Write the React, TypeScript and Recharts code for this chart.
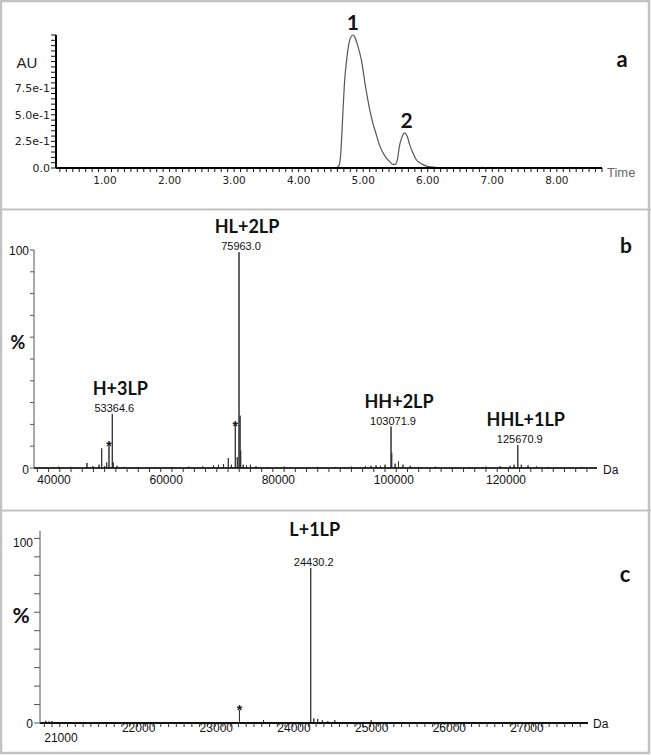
import React from 'react';
import { ComposedChart, Line, XAxis, YAxis, ReferenceDot } from 'recharts';

// ---- panel a: UV chromatogram (time in min, absorbance in AU) ----
const chromatogram: [number, number][] = [
  [0.24, 0], [4.5, 0], [4.57, 0.002], [4.6, 0.008], [4.63, 0.03], [4.65, 0.12], [4.67, 0.33],
  [4.69, 0.58], [4.71, 0.8], [4.74, 1.0], [4.77, 1.14], [4.8, 1.22], [4.84, 1.25], [4.87, 1.23],
  [4.91, 1.16], [4.97, 1.02], [5.04, 0.75], [5.1, 0.55], [5.15, 0.42], [5.2, 0.32], [5.25, 0.22],
  [5.3, 0.15], [5.35, 0.1], [5.41, 0.06], [5.46, 0.035], [5.5, 0.035], [5.53, 0.08], [5.56, 0.2],
  [5.6, 0.29], [5.64, 0.33], [5.68, 0.3], [5.72, 0.22], [5.77, 0.14], [5.82, 0.08], [5.9, 0.04],
  [5.97, 0.02], [6.05, 0.01], [6.15, 0.004], [6.3, 0], [6.8, 0], [6.85, 0.006], [6.9, 0],
  [6.95, 0.005], [7.0, 0], [8.15, 0], [8.2, 0.005], [8.25, 0], [8.7, 0],
];
const chromPeakNames = ['1', '2'];
const chromPeakTimes = [4.84, 5.64];
const chromPeakAU = [1.25, 0.33];

const timeLabels = [1, 2, 3, 4, 5, 6, 7, 8];
const auLabels: Record<string, string> = { '0': '0.0', '0.25': '2.5e-1', '0.5': '5.0e-1', '0.75': '7.5e-1' };

// ---- panel b: deconvoluted spectrum, 40-140 kDa (mass, % intensity) ----
const spectrumB: [number, number][] = [
  [41500, 0.4], [43800, 0.6], [46000, 0.5], [48847, 2.3], [49900, 0.8], [50990, 1.5], [51468, 9],
  [52000, 0.8], [52360, 2.5], [52770, 10], [53364.6, 24.8], [53538, 2.5], [54200, 1], [55500, 0.5],
  [58000, 0.4], [61000, 0.5], [64000, 0.4], [67000, 0.6], [69500, 0.7], [71400, 1.2], [72300, 1.5],
  [73200, 1.8], [74050, 4.5], [74600, 1.5], [75300, 19.4], [75656, 5], [75963.0, 99], [76150, 24],
  [76260, 8], [76700, 1.5], [77300, 1.2], [78000, 1.5], [79000, 0.8], [81000, 0.5], [84000, 0.6],
  [87000, 0.4], [90000, 0.5], [93000, 0.4], [96000, 0.6], [98500, 0.8], [99500, 1], [100400, 1.2],
  [101200, 1], [102000, 1.5], [103071.9, 19], [103190, 7], [103800, 2], [104400, 3], [105200, 1.5],
  [106500, 1], [108000, 0.5], [111000, 0.6], [114000, 0.4], [117000, 0.5], [120000, 0.6],
  [122500, 0.8], [124300, 1], [125000, 1.5], [125670.9, 10.5], [126300, 1.5], [127500, 1.2],
  [129000, 0.7], [131000, 0.5], [134000, 0.4], [137000, 0.5],
];
const namesB = ['H+3LP', 'HL+2LP', 'HH+2LP', 'HHL+1LP'];
const massesB = [53364.6, 75963.0, 103071.9, 125670.9];
const heightsB = [24.8, 99, 19, 10.5];
const starMassB = [52770, 75300];
const starHeightB = [10, 19.4];
const massLabelsB = [40000, 60000, 80000, 100000, 120000];

// ---- panel c: deconvoluted spectrum, 21-28 kDa ----
const spectrumC: [number, number][] = [
  [21020, 1.2], [21060, 0.8], [21100, 1.0], [21200, 0.4], [21500, 0.3], [22000, 0.3], [22500, 0.3],
  [23000, 0.3], [23513, 7], [23822, 1.6], [24000, 0.4], [24200, 0.5], [24430.2, 84], [24470, 2.5],
  [24520, 2.2], [24580, 1.5], [24650, 1.0], [24740, 1.5], [24900, 0.5], [25208, 1.5], [25500, 0.4],
  [26000, 0.3], [27000, 0.3],
];
const namesC = ['L+1LP'];
const massesC = [24430.2];
const heightsC = [84];
const starMassC = [23513];
const starHeightC = [7];
const massLabelsC = [21000, 22000, 23000, 24000, 25000, 26000, 27000];

const pctTicks = [0, 10, 20, 30, 40, 50, 60, 70, 80, 90, 100];

const range = (from: number, count: number, step: number) =>
  Array.from({ length: count }, (_, i) => Math.round((from + i * step) * 100) / 100);

const toSticks = (peaks: [number, number][], lo: number, hi: number) => {
  const pts = [{ x: lo, y: 0 }];
  peaks.forEach(([m, h]) => {
    pts.push({ x: m, y: 0 }, { x: m, y: h }, { x: m, y: 0 });
  });
  pts.push({ x: hi, y: 0 });
  return pts;
};

const SANS = 'Liberation Sans, Arial, sans-serif';
const CAL = 'Lato, Carlito, sans-serif';

const ChromatogramPanel = () => {
  const data = chromatogram.map(([t, au]) => ({ x: t, y: au }));
  return (
    <ComposedChart width={651} height={209} data={data} margin={{ top: 35, right: 49, bottom: 0, left: 0 }}>
      <XAxis
        type="number" dataKey="x" domain={[0.24, 8.7]} allowDataOverflow
        ticks={range(0.3, 85, 0.1)} interval={0} height={41} tickSize={4} tickMargin={1}
        axisLine={{ stroke: '#000', strokeWidth: 2 }} tickLine={{ stroke: '#111' }}
        tick={(p: any) =>
          timeLabels.includes(p.payload.value) ? (
            <text x={p.x} y={p.y} dy={11} textAnchor="middle" fontFamily="DejaVu Sans" fontSize={10.5} fill="#222">
              {p.payload.value.toFixed(2)}
            </text>
          ) : <g />
        }
      />
      <YAxis
        type="number" domain={[0, 1.25]} ticks={range(0, 26, 0.05)} interval={0} width={56}
        tickSize={5} tickMargin={1}
        axisLine={{ stroke: '#000', strokeWidth: 2 }} tickLine={{ stroke: '#111' }}
        tick={(p: any) =>
          auLabels[String(p.payload.value)] ? (
            <text x={p.x} y={p.y} dy={4} textAnchor="end" fontFamily="DejaVu Sans" fontSize={11} fill="#222">
              {auLabels[String(p.payload.value)]}
            </text>
          ) : <g />
        }
      />
      <Line type="monotone" dataKey="y" stroke="#555" strokeWidth={1.2} dot={false} isAnimationActive={false} />
      {chromPeakNames.map((name, i) => (
        <ReferenceDot
          key={name} x={chromPeakTimes[i]} y={chromPeakAU[i]} r={1}
          shape={(p: any) => (
            <text x={p.cx + (i === 0 ? 0 : 2)} y={p.cy - 5} textAnchor="middle" fontFamily={CAL} fontWeight="bold" fontSize={21} fill="#111">
              {name}
            </text>
          )}
        />
      ))}
    </ComposedChart>
  );
};

interface SpectrumProps {
  height: number;
  top: number;
  right: number;
  axisW: number;
  xAxisH: number;
  domain: [number, number];
  yMax: number;
  ticks: number[];
  labels: number[];
  peaks: [number, number][];
  names: string[];
  masses: number[];
  heights: number[];
  starMass: number[];
  starHeight: number[];
  nameDx: number;
  nameDy: number;
  massDx: number;
  labelDy: (v: number) => number;
  yLabelDy: (v: number) => number;
  yTickSize: number;
  baseWidth: number;
}

const SpectrumPanel = (s: SpectrumProps) => {
  const data = toSticks(s.peaks, s.domain[0], s.domain[1]);
  return (
    <ComposedChart width={651} height={s.height} data={data} margin={{ top: s.top, right: s.right, bottom: 0, left: 0 }}>
      <XAxis
        type="number" dataKey="x" domain={s.domain} allowDataOverflow ticks={s.ticks} interval={0}
        height={s.xAxisH} tickSize={4} tickMargin={0}
        axisLine={{ stroke: '#111', strokeWidth: s.baseWidth }} tickLine={{ stroke: '#333' }}
        tick={(p: any) =>
          s.labels.includes(p.payload.value) ? (
            <text x={p.x} y={p.y} dy={s.labelDy(p.payload.value)} textAnchor="start" fontFamily={SANS} fontSize={12} fill="#111">
              {p.payload.value}
            </text>
          ) : <g />
        }
      />
      <YAxis
        type="number" domain={[0, s.yMax]} ticks={pctTicks} interval={0} width={s.axisW}
        tickSize={s.yTickSize} tickMargin={1}
        axisLine={{ stroke: '#555' }} tickLine={{ stroke: '#555' }}
        tick={(p: any) =>
          p.payload.value === 0 || p.payload.value === 100 ? (
            <text x={p.x} y={p.y} dy={s.yLabelDy(p.payload.value)} textAnchor="end" fontFamily={SANS} fontSize={12} fill="#111">
              {p.payload.value}
            </text>
          ) : <g />
        }
      />
      <Line type="linear" dataKey="y" stroke="#333" strokeWidth={1} dot={false} isAnimationActive={false} />
      {s.names.map((name, i) => (
        <ReferenceDot
          key={name} x={s.masses[i]} y={s.heights[i]} r={1}
          shape={(p: any) => (
            <g>
              <text x={p.cx + s.nameDx} y={p.cy + s.nameDy} textAnchor="middle" fontFamily={CAL} fontWeight="bold" fontSize={18} fill="#111">
                {name}
              </text>
              <text x={p.cx + s.massDx} y={p.cy - 2} textAnchor="middle" fontFamily={SANS} fontSize={11} fill="#111">
                {s.masses[i].toFixed(1)}
              </text>
            </g>
          )}
        />
      ))}
      {s.starMass.map((m, i) => (
        <ReferenceDot
          key={'s' + m} x={m} y={s.starHeight[i]} r={1}
          shape={(p: any) => (
            <text x={p.cx} y={p.cy + 5} textAnchor="middle" fontFamily={SANS} fontWeight="bold" fontSize={14} fill="#111">*</text>
          )}
        />
      ))}
    </ComposedChart>
  );
};

export default function App() {
  return (
    <div style={{ position: 'absolute', left: 0, top: 0, width: 651, height: 755, background: '#fff', overflow: 'hidden' }}>
      <div style={{ position: 'absolute', left: 0, top: 0 }}>
        <ChromatogramPanel />
      </div>
      <div style={{ position: 'absolute', left: 0, top: 209 }}>
        <SpectrumPanel
          height={301} top={41} right={54} axisW={34} xAxisH={42}
          domain={[39400, 139800]} yMax={100}
          ticks={range(40000, 50, 2000)} labels={massLabelsB}
          peaks={spectrumB} names={namesB} masses={massesB} heights={heightsB}
          starMass={starMassB} starHeight={starHeightB}
          nameDx={8} nameDy={-19} massDx={2}
          labelDy={() => 12} yLabelDy={(v) => (v === 100 ? 5 : 6)} yTickSize={4} baseWidth={1.5}
        />
      </div>
      <div style={{ position: 'absolute', left: 0, top: 510 }}>
        <SpectrumPanel
          height={243} top={21} right={63} axisW={40} xAxisH={30}
          domain={[20945, 28000]} yMax={104}
          ticks={range(21000, 70, 100)} labels={massLabelsC}
          peaks={spectrumC} names={namesC} masses={massesC} heights={heightsC}
          starMass={starMassC} starHeight={starHeightC}
          nameDx={4} nameDy={-32} massDx={3}
          labelDy={(v) => (v === 21000 ? 15 : 5)} yLabelDy={(v) => (v === 100 ? 9 : 5)} yTickSize={6} baseWidth={2}
        />
      </div>
      <svg width={651} height={755} style={{ position: 'absolute', left: 0, top: 0, pointerEvents: 'none' }}>
        <rect x={1} y={1} width={648} height={752} fill="none" stroke="#c2c2c2" strokeWidth={2.5} />
        <line x1={0} x2={651} y1={209.5} y2={209.5} stroke="#c2c2c2" strokeWidth={2} />
        <line x1={0} x2={651} y1={510.5} y2={510.5} stroke="#c2c2c2" strokeWidth={2} />
        <text x={27} y={68} textAnchor="middle" fontFamily={SANS} fontSize={15} fill="#222">AU</text>
        <text x={607} y={177} fontFamily={SANS} fontSize={13} fill="#666">Time</text>
        <text x={622} y={67} textAnchor="middle" fontFamily={CAL} fontWeight="bold" fontSize={22} fill="#111">a</text>
        <text x={626} y={253} textAnchor="middle" fontFamily={CAL} fontWeight="bold" fontSize={21} fill="#111">b</text>
        <text x={625} y={582} textAnchor="middle" fontFamily={CAL} fontWeight="bold" fontSize={22} fill="#111">c</text>
        <text x={18} y={349} textAnchor="middle" fontFamily={CAL} fontWeight="bold" fontSize={18} fill="#111">%</text>
        <text x={21} y={623} textAnchor="middle" fontFamily={CAL} fontWeight="bold" fontSize={21} fill="#111">%</text>
        <text x={603} y={474} fontFamily={SANS} fontSize={12} fill="#111">Da</text>
        <text x={593} y={728} fontFamily={SANS} fontSize={12} fill="#111">Da</text>
      </svg>
    </div>
  );
}
